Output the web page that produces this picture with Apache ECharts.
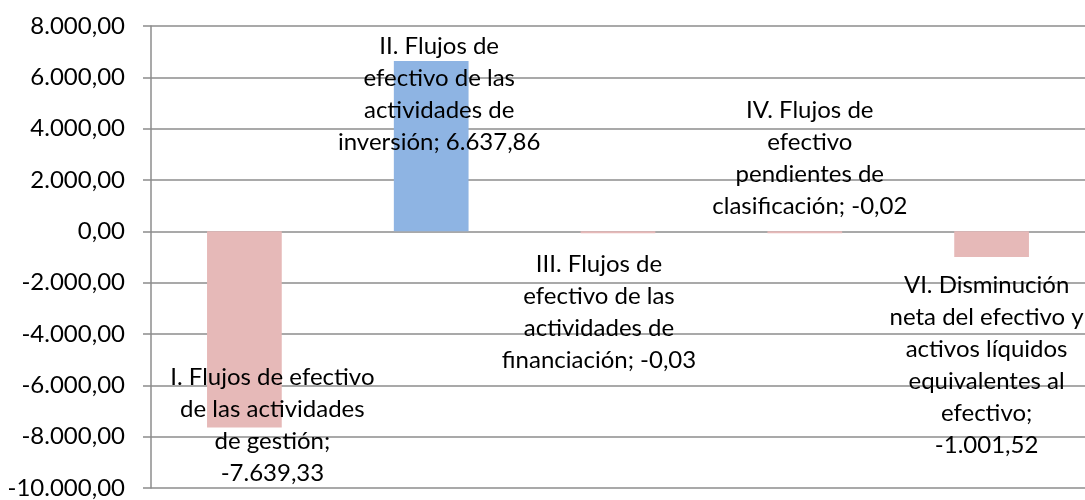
<!DOCTYPE html>
<html>
<head>
<meta charset="utf-8">
<script src="https://cdn.jsdelivr.net/npm/echarts@6/dist/echarts.min.js"></script>
<style>
  html, body { margin: 0; padding: 0; background: #fff; }
  #main { width: 1085px; height: 500px; }
</style>
</head>
<body>
<div id="main"></div>
<script>
  // categories (line breaks as in the wrapped data labels)
  var categories = [
    "I. Flujos de efectivo\nde las actividades\nde gestión",
    "II. Flujos de\nefectivo de las\nactividades de\ninversión",
    "III. Flujos de\nefectivo de las\nactividades de\nfinanciación",
    "IV. Flujos de\nefectivo\npendientes de\nclasificación",
    "VI. Disminución\nneta del efectivo y\nactivos líquidos\nequivalentes al\nefectivo"
  ];
  var values = [-7639.33, 6637.86, -0.03, -0.02, -1001.52];
  // true when the value goes on its own line after "name;"
  var valueOnNewLine = [true, false, false, false, true];
  var yTicks = { min: -10000, max: 8000, step: 2000 };

  var pink = "#E6B9B8", blue = "#8EB4E3", gridGray = "#8c8c8c";
  var labelFont = "Lato";
  // label placement relative to each bar's centre (px)
  var labelOffsets = [[28, 96], [8, -52], [-19, 80], [5, -74], [-5, 121]];

  var fmt = function(v, dec) {
    var neg = v < 0;
    var s = Math.abs(v).toFixed(dec);
    var parts = s.split(".");
    var intPart = parts[0].replace(/\B(?=(\d{3})+(?!\d))/g, ".");
    return (neg ? "-" : "") + intPart + (dec > 0 ? "," + parts[1] : "");
  };

  var seriesData = [];
  for (var i = 0; i < values.length; i++) {
    seriesData.push({
      value: values[i],
      itemStyle: { color: values[i] >= 0 ? blue : pink },
      label: { offset: labelOffsets[i] }
    });
  }

  var chart = echarts.init(document.getElementById("main"), null, { renderer: "canvas" });
  chart.setOption({
    animation: false,
    grid: { left: 151, right: 0, top: 26, bottom: 11, containLabel: false },
    xAxis: {
      type: "category",
      data: categories,
      axisLine: { show: false },
      axisTick: { show: false },
      axisLabel: { show: false },
      splitLine: { show: false }
    },
    yAxis: {
      type: "value",
      min: yTicks.min,
      max: yTicks.max,
      interval: yTicks.step,
      axisLine: { show: true, lineStyle: { color: gridGray, width: 1.5 } },
      axisTick: { show: true, length: 8, lineStyle: { color: gridGray, width: 1.5 } },
      axisLabel: {
        margin: 26,
        color: "#000",
        fontFamily: labelFont,
        fontSize: 24,
        formatter: function(v) { return fmt(v, 2); }
      },
      splitLine: { show: true, lineStyle: { color: gridGray, width: 1.5 } }
    },
    series: [{
      type: "bar",
      barWidth: "40%",
      barMinHeight: 2,
      data: seriesData,
      label: {
        show: true,
        position: "inside",
        color: "#000",
        fontFamily: labelFont,
        fontSize: 24,
        lineHeight: 32,
        align: "center",
        formatter: function(p) {
          var i = p.dataIndex;
          return categories[i] + ";" + (valueOnNewLine[i] ? "\n" : " ") + fmt(values[i], 2);
        }
      }
    }]
  });
</script>
</body>
</html>
